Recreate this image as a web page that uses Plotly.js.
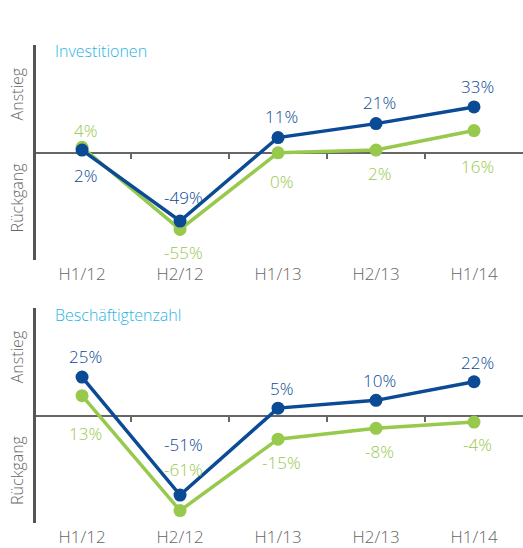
<!DOCTYPE html>
<html>
<head>
<meta charset="utf-8">
<script src="https://cdn.plot.ly/plotly-3.0.1.min.js"></script>
<style>html,body{margin:0;padding:0;background:#fff;}#chart{width:523px;height:548px;}</style>
</head>
<body>
<div id="chart"></div>
<script>
// ---- data ----
var categories = ['H1/12', 'H2/12', 'H1/13', 'H2/13', 'H1/14'];
var invBlue  = [2, -49, 11, 21, 33];
var invGreen = [4, -55, 0, 2, 16];
var empBlue  = [25, -51, 5, 10, 22];
var empGreen = [13, -61, -15, -8, -4];
var panelTitles = ['Investitionen', 'Beschäftigtenzahl'];
var upLabel = 'Anstieg';
var downLabel = 'Rückgang';

// ---- style ----
var BLUE = '#0b4a94', GREEN = '#97c94c', CYAN = '#2ab2e6', GRAY = '#666666', AXIS = '#555555';
var FONT = 'Open Sans, sans-serif';
var W = 523, H = 548;
// label vertical offsets (px) relative to point
var invBlueShift  = [-25, 24, 21, 21, 20];
var invGreenShift = [17, -23, -29, -23, -36];
var empBlueShift  = [21, 51, 20, 20, 19];
var empGreenShift = [-38, 41, -23, -23, -22];

var xDomain = [36 / W, 1];
var xRange = [-0.47, 4.5];
var topDom = [1 - 260 / H, 1 - 45 / H];
var botDom = [1 - 523 / H, 1 - 308 / H];
var topRange = [-77, 77.5];
var botRange = [-69, 69.5];

function zeroPos(dom, rng) {
  return dom[0] + (0 - rng[0]) / (rng[1] - rng[0]) * (dom[1] - dom[0]);
}

function lineTrace(y, color, xa, ya) {
  return {
    x: categories, y: y, xaxis: xa, yaxis: ya, type: 'scatter', mode: 'lines+markers',
    line: {color: color, width: 3.5}, marker: {color: color, size: 13},
    hoverinfo: 'skip', showlegend: false, cliponaxis: false
  };
}

var data = [
  lineTrace(invGreen, GREEN, 'x', 'y'),
  lineTrace(invBlue, BLUE, 'x', 'y'),
  lineTrace(empGreen, GREEN, 'x2', 'y2'),
  lineTrace(empBlue, BLUE, 'x2', 'y2'),
  {x: [], y: [], xaxis: 'x3', yaxis: 'y', type: 'scatter', showlegend: false},
  {x: [], y: [], xaxis: 'x4', yaxis: 'y2', type: 'scatter', showlegend: false}
];

var annotations = [];
function addLabels(vals, shifts, color, xr, yr) {
  vals.forEach(function (v, i) {
    annotations.push({
      x: categories[i], y: v, xref: xr, yref: yr, text: v + '%', showarrow: false,
      yshift: shifts[i], xshift: 3, font: {family: FONT, size: 17, color: color, weight: 300}
    });
  });
}
addLabels(invBlue, invBlueShift, BLUE, 'x', 'y');
addLabels(invGreen, invGreenShift, GREEN, 'x', 'y');
addLabels(empBlue, empBlueShift, BLUE, 'x2', 'y2');
addLabels(empGreen, empGreenShift, GREEN, 'x2', 'y2');

// panel titles
annotations.push({text: panelTitles[0], xref: 'paper', yref: 'paper', x: 53 / W, y: 1 - 51 / H,
  xanchor: 'left', yanchor: 'middle', showarrow: false, font: {family: FONT, size: 16, color: CYAN, weight: 300}});
annotations.push({text: panelTitles[1], xref: 'paper', yref: 'paper', x: 53 / W, y: 1 - 315 / H,
  xanchor: 'left', yanchor: 'middle', showarrow: false, font: {family: FONT, size: 16, color: CYAN, weight: 300}});

// rotated y labels
[['y', 42, -32], ['y2', 37.7, -34.8]].forEach(function (p) {
  annotations.push({text: upLabel, xref: 'paper', yref: p[0], x: 17 / W, y: p[1], textangle: -90,
    xanchor: 'center', yanchor: 'middle', showarrow: false, font: {family: FONT, size: 16, color: GRAY, weight: 300}});
  annotations.push({text: downLabel, xref: 'paper', yref: p[0], x: 17 / W, y: p[2], textangle: -90,
    xanchor: 'center', yanchor: 'middle', showarrow: false, font: {family: FONT, size: 16, color: GRAY, weight: 300}});
});

function catAxis(anchor) {
  return {domain: xDomain, range: xRange, type: 'category', anchor: anchor, showgrid: false, zeroline: false,
    showline: false, ticks: '', tickfont: {family: FONT, size: 17, color: GRAY, weight: 300}, ticklabelstandoff: 2,
    fixedrange: true};
}
function valAxis(dom, rng) {
  return {domain: dom, range: rng, showgrid: false, zeroline: false, showline: true, linecolor: AXIS,
    linewidth: 3, ticks: '', showticklabels: false, fixedrange: true};
}
function zeroAxis(over, dom, rng) {
  return {overlaying: over, domain: xDomain, range: xRange, anchor: 'free', position: zeroPos(dom, rng),
    showline: true, linecolor: GRAY, linewidth: 2, ticks: 'outside', ticklen: 5, tickwidth: 2, tickcolor: GRAY,
    tickvals: [0.5, 1.5, 2.5, 3.5], showticklabels: false, showgrid: false, zeroline: false,
    layer: 'below traces', fixedrange: true};
}

var layout = {
  width: W, height: H, margin: {l: 0, r: 0, t: 0, b: 0},
  paper_bgcolor: '#ffffff', plot_bgcolor: '#ffffff', showlegend: false,
  xaxis: catAxis('y'), yaxis: valAxis(topDom, topRange),
  xaxis2: catAxis('y2'), yaxis2: valAxis(botDom, botRange),
  xaxis3: zeroAxis('x', topDom, topRange),
  xaxis4: zeroAxis('x2', botDom, botRange),
  annotations: annotations
};
layout.yaxis.anchor = 'x';
layout.yaxis2.anchor = 'x2';

Plotly.newPlot('chart', data, layout, {staticPlot: true, displayModeBar: false});
</script>
</body>
</html>
